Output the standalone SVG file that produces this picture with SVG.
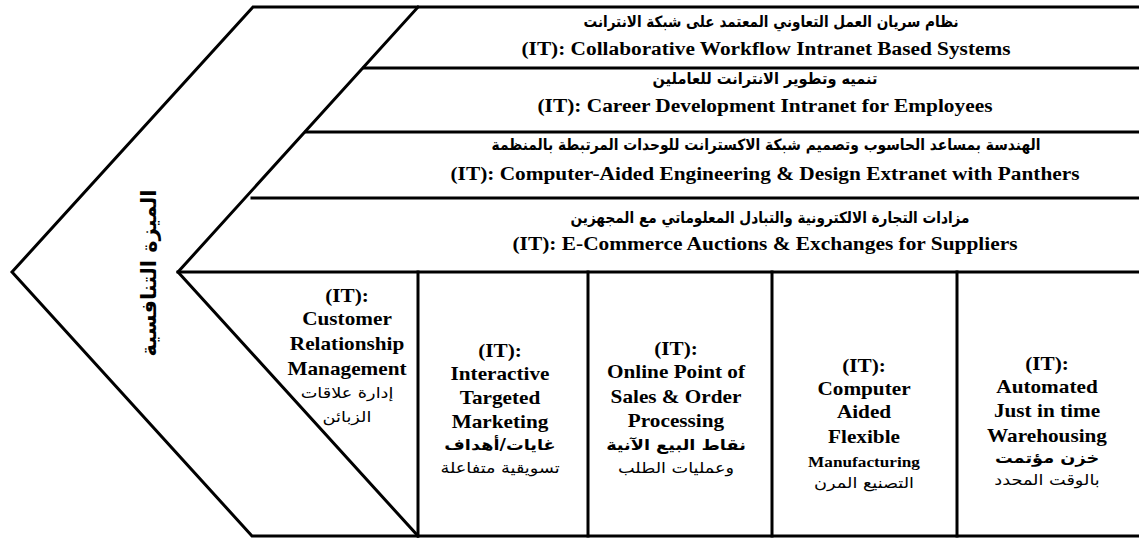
<svg xmlns="http://www.w3.org/2000/svg" width="1139" height="538" viewBox="0 0 1139 538">
<style>
.ln{fill:none;stroke:#000;stroke-width:3;stroke-linejoin:miter;stroke-linecap:square}
.en{font-family:'Liberation Serif','Times New Roman',Tinos,'DejaVu Serif',serif;font-weight:700;font-size:18px;fill:#000;text-anchor:middle}
.ar{font-family:'DejaVu Sans','Noto Sans',sans-serif;font-weight:700;font-size:15.5px;fill:#000;text-anchor:middle}
.arr{font-family:'DejaVu Sans','Noto Sans',sans-serif;font-weight:400;font-size:15px;fill:#000;text-anchor:middle}
.arb{font-family:'DejaVu Sans','Noto Sans',sans-serif;font-weight:700;font-size:15px;fill:#000;text-anchor:middle}
.title{font-family:'DejaVu Sans','Noto Sans',sans-serif;font-weight:700;font-size:21px;fill:#000;text-anchor:middle}
</style>
<rect width="1139" height="538" fill="#fff"/>
<g id="connectors">
<polyline class="ln" points="1138,7 253,7 12,272 252,536 1138,536"/>
<polyline class="ln" points="418,7 178,272 418,536"/>
<line class="ln" x1="364" y1="68" x2="1138" y2="68"/>
<line class="ln" x1="306" y1="132" x2="1138" y2="132"/>
<line class="ln" x1="252" y1="198" x2="1138" y2="198"/>
<line class="ln" x1="178" y1="272" x2="1138" y2="272"/>
<line class="ln" x1="418" y1="272" x2="418" y2="536"/>
<line class="ln" x1="588" y1="272" x2="588" y2="536"/>
<line class="ln" x1="772" y1="272" x2="772" y2="536"/>
<line class="ln" x1="957" y1="272" x2="957" y2="536"/>
</g>
<g id="title">
<text class="title" transform="translate(156,273) rotate(-90)" x="0" y="0">الميزة التنافسية</text>
</g>
<g id="band1">
<text class="ar" x="771" y="27" textLength="375" lengthAdjust="spacingAndGlyphs">نظام سريان العمل التعاوني المعتمد على شبكة الانترانت</text>
<text class="en" x="766" y="55" textLength="489" lengthAdjust="spacingAndGlyphs">(IT): Collaborative Workflow Intranet Based Systems</text>
</g>
<g id="band2">
<text class="ar" x="765" y="84" textLength="225" lengthAdjust="spacingAndGlyphs">تنميه وتطوير الانترانت للعاملين</text>
<text class="en" x="765" y="112" textLength="455" lengthAdjust="spacingAndGlyphs">(IT): Career Development Intranet for Employees</text>
</g>
<g id="band3">
<text class="ar" x="766" y="150" textLength="549" lengthAdjust="spacingAndGlyphs">الهندسة بمساعد الحاسوب وتصميم شبكة الاكسترانت للوحدات المرتبطة بالمنظمة</text>
<text class="en" x="765" y="180" textLength="629" lengthAdjust="spacingAndGlyphs">(IT): Computer-Aided Engineering &amp; Design Extranet with Panthers</text>
</g>
<g id="band4">
<text class="ar" x="770" y="223" textLength="399" lengthAdjust="spacingAndGlyphs">مزادات التجارة الالكترونية والتبادل المعلوماتي مع المجهزين</text>
<text class="en" x="765" y="250" textLength="505" lengthAdjust="spacingAndGlyphs">(IT): E-Commerce Auctions &amp; Exchanges for Suppliers</text>
</g>
<g id="box-crm" transform="translate(347,0) scale(1.18,1)">
<text class="en" x="0" y="302">(IT):</text>
<text class="en" x="0" y="325">Customer</text>
<text class="en" x="0" y="350">Relationship</text>
<text class="en" x="0" y="375">Management</text>
<text class="arr" x="0" y="398">إدارة علاقات</text>
<text class="arr" x="0" y="422">الزبائن</text>
</g>
<g id="box-marketing" transform="translate(500,0) scale(1.18,1)">
<text class="en" x="0" y="357">(IT):</text>
<text class="en" x="0" y="380">Interactive</text>
<text class="en" x="0" y="404">Targeted</text>
<text class="en" x="0" y="428">Marketing</text>
<text class="arb" x="0" y="450">غايات/أهداف</text>
<text class="arr" x="0" y="473">تسويقية متفاعلة</text>
</g>
<g id="box-pos" transform="translate(676,0) scale(1.18,1)">
<text class="en" x="0" y="355">(IT):</text>
<text class="en" x="0" y="378">Online Point of</text>
<text class="en" x="0" y="403">Sales &amp; Order</text>
<text class="en" x="0" y="427">Processing</text>
<text class="arb" x="0" y="450">نقاط البيع الآنية</text>
<text class="arr" x="0" y="473">وعمليات الطلب</text>
</g>
<g id="box-cam" transform="translate(864,0) scale(1.18,1)">
<text class="en" x="0" y="372">(IT):</text>
<text class="en" x="0" y="395">Computer</text>
<text class="en" x="0" y="418">Aided</text>
<text class="en" x="0" y="443">Flexible</text>
<text class="en" x="0" y="467" style="font-size:14.6px">Manufacturing</text>
<text class="arr" x="0" y="488">التصنيع المرن</text>
</g>
<g id="box-jit" transform="translate(1047,0) scale(1.18,1)">
<text class="en" x="0" y="370">(IT):</text>
<text class="en" x="0" y="393">Automated</text>
<text class="en" x="0" y="417">Just in time</text>
<text class="en" x="0" y="442">Warehousing</text>
<text class="arb" x="0" y="463">خزن مؤتمت</text>
<text class="arr" x="0" y="485">بالوقت المحدد</text>
</g>
</svg>
